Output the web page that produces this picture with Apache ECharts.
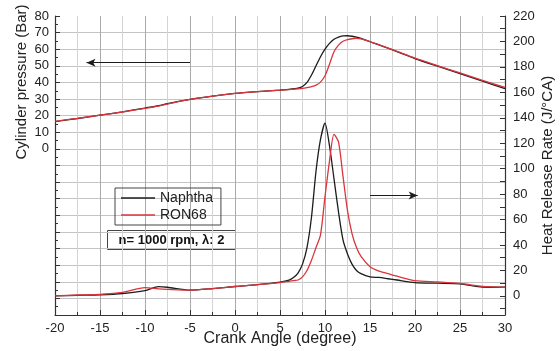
<!DOCTYPE html>
<html>
<head>
<meta charset="utf-8">
<script src="https://cdn.jsdelivr.net/npm/echarts@6/dist/echarts.min.js"></script>
<style>
  html, body { margin: 0; padding: 0; background: #fff; }
  #chart { width: 560px; height: 351px; }
</style>
</head>
<body>
<div id="chart"></div>
<script>
// crank angle (degree)
const angle = [-20, -17.5, -15, -12.5, -10, -8.5, -7.5, -5, -2.5, 0, 2.5, 5, 6, 6.5, 7, 7.5, 8, 8.5, 9, 9.5,
  10, 10.5, 11, 11.5, 12, 12.5, 13, 13.5, 14, 15, 16, 17, 18, 20, 22.5, 25, 27.5, 30]
// cylinder pressure (Bar)
const pNaphtha = [16.4, 18.3, 20.3, 22.3, 24.6, 26, 27.2, 29.8, 31.8, 33.4, 34.5, 35.4, 35.8, 36.2, 36.6, 37.6, 40, 44.5, 50, 55.5,
  60, 63.5, 66, 67.3, 68, 68.1, 67.8, 67.3, 66.5, 64.5, 62.6, 60.6, 58.6, 54.4, 49.8, 45.3, 40.8, 36.3]
const pRon68 = [16.6, 18.4, 20.3, 22.2, 24.4, 25.8, 27, 29.8, 31.8, 33.4, 34.5, 35.4, 35.7, 35.9, 36.1, 36.4, 36.9, 37.5, 38.4, 40.2,
  44, 51, 58.5, 62.5, 64.8, 65.8, 66.3, 66.5, 66.2, 64.6, 62.7, 60.7, 58.7, 54.6, 50.1, 45.7, 41.3, 37]
// heat release rate (J/°CA)
const hNaphtha = [0, 0.5, 0.9, 1.9, 4.2, 7.3, 6.8, 4.6, 5.8, 7.4, 8.8, 10.8, 12.4, 14.5, 18, 25, 38, 62, 98, 123,
  135.8, 118, 92, 66, 44, 33, 25, 20, 17.5, 15, 14.5, 13.5, 12.5, 10.5, 10, 9.5, 7, 6.8]
const hRon68 = [0, 0.7, 1.2, 2.8, 6.5, 5.6, 5.2, 4.5, 5.8, 7.4, 8.8, 10.5, 11.5, 12, 12.5, 15, 20, 28, 38, 48,
  78, 106, 127, 121, 94, 67, 49, 38, 31, 23, 19.5, 17.5, 15.5, 12, 11, 9.8, 7.5, 6.8]

const hrrLabels = [0, 20, 40, 60, 80, 100, 120, 140, 160, 180, 200, 220]
const hrrTicks = [-10, 0, 10, 20, 30, 40, 50, 60, 70, 80, 90, 100, 110, 120, 130, 140, 150, 160, 170, 180, 190, 200, 210, 220]

const black = '#1c1c1c'
const red = '#d8363c'
const font = '"Liberation Sans", Arial, sans-serif'

const pairs = (vals) => angle.map((a, i) => [a, vals[i]])

const chart = echarts.init(document.getElementById('chart'))

const lineSeries = (name, color, vals, axis) => ({
  name: name,
  type: 'line',
  yAxisIndex: axis,
  data: pairs(vals),
  smooth: 0.25,
  symbol: 'none',
  color: color,
  lineStyle: { width: 1.3, color: color }
})

const arrow = (from, to) => ({
  silent: true,
  symbol: ['none', 'arrow'],
  symbolSize: [6, 9],
  label: { show: false },
  lineStyle: { color: black, type: 'solid', width: 1.2 },
  data: [[{ coord: from }, { coord: to }]]
})

const option = {
  animation: false,
  grid: { left: 55, right: 55, top: 16, bottom: 36, outerBoundsMode: 'none' },
  legend: {
    data: ['Naphtha', 'RON68'],
    orient: 'vertical',
    left: 115,
    top: 188,
    padding: [3, 8, 3, 6],
    itemGap: 3,
    icon: 'rect',
    itemWidth: 34,
    itemHeight: 1.5,
    borderColor: '#444',
    borderWidth: 1,
    textStyle: { fontFamily: font, fontSize: 14, color: '#222' }
  },
  xAxis: {
    type: 'value',
    min: -20,
    max: 30,
    interval: 5,
    name: 'Crank Angle (degree)',
    nameLocation: 'middle',
    nameGap: 16,
    nameMoveOverlap: false,
    nameTextStyle: { fontFamily: font, fontSize: 16, color: '#222' },
    axisLine: { onZero: false, lineStyle: { color: '#333', width: 1.2 } },
    axisTick: { inside: true, length: 5, lineStyle: { color: '#333' } },
    minorTick: { show: true, splitNumber: 2, length: 3, lineStyle: { color: '#333' } },
    axisLabel: { fontFamily: font, fontSize: 13, color: '#222', margin: 7 },
    splitLine: { show: true, showMinLine: false, showMaxLine: false, lineStyle: { color: '#aaaaaa', width: 1 } },
    minorSplitLine: { show: true, lineStyle: { color: '#d4d4d4', width: 1 } }
  },
  yAxis: [
    {
      type: 'value',
      min: -100,
      max: 80,
      interval: 10,
      axisLine: { show: true, onZero: false, lineStyle: { color: '#333', width: 1.2 } },
      axisTick: { show: true, inside: true, length: 5, lineStyle: { color: '#333' } },
      minorTick: { show: true, splitNumber: 2, length: 3, lineStyle: { color: '#333' } },
      axisLabel: {
        fontFamily: font, fontSize: 13, color: '#222', margin: 6,
        formatter: (v) => (v >= 0 ? String(v) : '')
      },
      splitLine: { show: true, showMinLine: false, showMaxLine: false, lineStyle: { color: '#c4c4c4', width: 1 } }
    },
    {
      type: 'value',
      min: -15,
      max: 220,
      position: 'right',
      name: 'Heat Release Rate (J/\u00B0CA)',
      nameLocation: 'middle',
      nameRotate: 90,
      nameGap: 35,
      nameMoveOverlap: false,
      nameTextStyle: { fontFamily: font, fontSize: 15, color: '#222' },
      axisLine: { show: true, onZero: false, lineStyle: { color: '#333', width: 1.2 } },
      axisTick: { show: true, inside: true, length: 5, customValues: hrrTicks, lineStyle: { color: '#333' } },
      axisLabel: { fontFamily: font, fontSize: 13, color: '#222', margin: 8, customValues: hrrLabels },
      splitLine: { show: false }
    }
  ],
  graphic: [
    {
      type: 'text',
      x: 22,
      y: 82,
      rotation: Math.PI / 2,
      style: {
        text: 'Cylinder pressure (Bar)',
        font: '15px ' + font,
        fill: '#222',
        align: 'center',
        verticalAlign: 'middle'
      }
    },
    {
      type: 'group',
      left: 107,
      top: 230,
      children: [
        {
          type: 'rect',
          shape: { x: 0, y: 0, width: 128, height: 19 },
          style: { fill: '#fff', stroke: '#444', lineWidth: 1 }
        },
        {
          type: 'text',
          x: 64,
          y: 10,
          style: {
            text: 'n= 1000 rpm, \u03BB: 2',
            font: 'bold 13px ' + font,
            fill: '#111',
            align: 'center',
            verticalAlign: 'middle'
          }
        }
      ]
    }
  ],
  series: [
    Object.assign(lineSeries('Naphtha', black, pNaphtha, 0), { markLine: arrow([-5, 51.9], [-16.5, 51.9]) }),
    lineSeries('RON68', red, pRon68, 0),
    Object.assign(lineSeries('Naphtha', black, hNaphtha, 1), { markLine: arrow([15, 79], [20.3, 79]) }),
    lineSeries('RON68', red, hRon68, 1)
  ]
}

option && chart.setOption(option)
</script>
</body>
</html>
